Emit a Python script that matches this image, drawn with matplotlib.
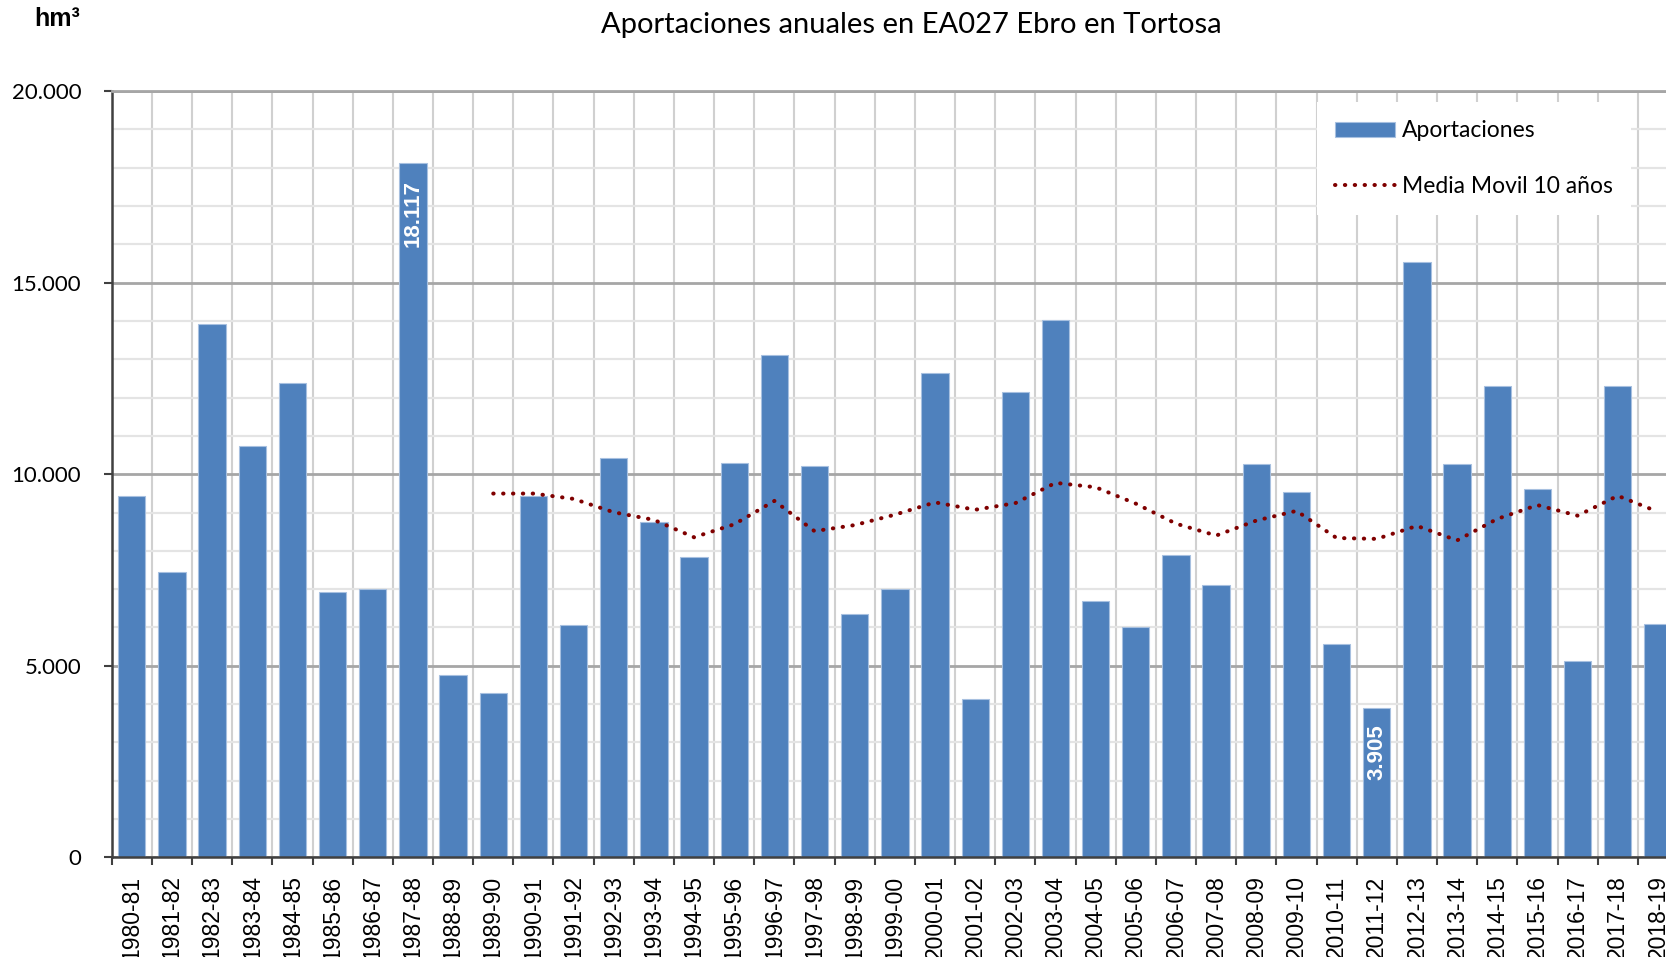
import numpy as np
import matplotlib.pyplot as plt
from matplotlib.ticker import MultipleLocator, FuncFormatter

# Aportaciones anuales (hm3), EA027 Ebro en Tortosa
years = ['1980-81', '1981-82', '1982-83', '1983-84', '1984-85', '1985-86', '1986-87',
         '1987-88', '1988-89', '1989-90', '1990-91', '1991-92', '1992-93', '1993-94',
         '1994-95', '1995-96', '1996-97', '1997-98', '1998-99', '1999-00', '2000-01',
         '2001-02', '2002-03', '2003-04', '2004-05', '2005-06', '2006-07', '2007-08',
         '2008-09', '2009-10', '2010-11', '2011-12', '2012-13', '2013-14', '2014-15',
         '2015-16', '2016-17', '2017-18', '2018-19']
aportaciones = [9430, 7450, 13910, 10725, 12370, 6915, 6995,
                18117, 4760, 4280, 9430, 6055, 10420, 8740,
                7830, 10290, 13110, 10220, 6340, 6995, 12645,
                4130, 12150, 14030, 6690, 6010, 7890, 7105,
                10255, 9525, 5560, 3905, 15535, 10255, 12300,
                9605, 5130, 12300, 6080]

# media movil 10 años, starts at 1989-90
mm_start = 9
media_movil = [9495, 9495, 9356, 9007, 8808, 8354, 8692, 9303, 8514, 8672,
               8943, 9265, 9072, 9245, 9774, 9660, 9232, 8710, 8399, 8790,
               9043, 8335, 8312, 8651, 8273, 8834, 9194, 8918, 9437, 9020]

# values labelled on the bars
labelled = {'1987-88': '18.117', '2011-12': '3.905'}

fig = plt.figure(figsize=(16.66, 9.57), dpi=100)
ax = fig.add_axes([111.7 / 1666, 1 - 857.4 / 957, 1566.3 / 1666, 766.4 / 957])

x = np.arange(len(years))
bars = ax.bar(x, aportaciones, width=0.68, color='#4F81BD', edgecolor='#A7C0E0',
              linewidth=0.8, label='Aportaciones', zorder=2)

xm = np.arange(mm_start, mm_start + len(media_movil))
line, = ax.plot(xm, media_movil, color='#7F0000', linewidth=2.9,
                linestyle=(0, (0.1, 2.35)), dash_capstyle='round',
                label='Media Movil 10 años', zorder=3)

for yr, txt in labelled.items():
    i = years.index(yr)
    ax.annotate(txt, xy=(i, aportaciones[i]), xytext=(0, -12),
                textcoords='offset points', rotation=90, ha='center', va='top',
                color='white', fontsize=16, fontweight='bold',
                family='Liberation Sans', zorder=4)

ax.set_xlim(-0.5, len(years) - 0.5)
ax.set_ylim(0, 20000)

# axes, ticks and grid
ax.set_axisbelow(True)
ax.yaxis.set_major_locator(MultipleLocator(5000))
ax.yaxis.set_minor_locator(MultipleLocator(1000))
ax.yaxis.set_major_formatter(FuncFormatter(lambda v, p: f'{int(v):,}'.replace(',', '.')))
ax.grid(axis='y', which='major', color='#A6A6A6', linewidth=2)
ax.grid(axis='y', which='minor', color='#E4E4E4', linewidth=1.6)

ax.set_xticks(x)
ax.set_xticklabels(years, rotation=90, family='Liberation Sans', fontsize=16.5)
ax.set_xticks(np.arange(len(years) + 1) - 0.5, minor=True)
ax.grid(axis='x', which='minor', color='#D0D0D0', linewidth=1.5)
ax.tick_params(axis='x', which='major', length=0, pad=13)
ax.tick_params(axis='x', which='minor', length=6, width=1.5, color='#404040')
ax.tick_params(axis='y', which='major', length=6, width=1.5, color='#404040', pad=16)
ax.tick_params(axis='y', which='minor', length=0)
for lbl in ax.get_yticklabels():
    lbl.set_family('Lato')
    lbl.set_fontsize(16)

for side in ['left', 'bottom']:
    ax.spines[side].set_color('#404040')
    ax.spines[side].set_linewidth(1.8)
ax.spines['top'].set_color('#A6A6A6')
ax.spines['top'].set_linewidth(2)
ax.spines['right'].set_visible(False)

leg = ax.legend(handles=[bars, line], loc='upper left',
                bbox_to_anchor=(1317 / 1666, 1 - 102 / 957),
                bbox_transform=fig.transFigure, frameon=True, fancybox=False,
                edgecolor='none', facecolor='white', framealpha=1,
                prop={'family': 'Lato', 'size': 16.5}, handlelength=2.6,
                handleheight=0.6, handletextpad=0.3, labelspacing=1.5,
                borderpad=0.8, borderaxespad=0)

fig.text(0.547, 0.974, 'Aportaciones anuales en EA027 Ebro en Tortosa',
         ha='center', va='center', family='Lato', fontsize=21)
fig.text(34 / 1666, 1 - 19 / 957, 'hm³', ha='left', va='center',
         family='Liberation Sans', fontweight='bold', fontsize=18)

fig.savefig('out.png', dpi=100)
